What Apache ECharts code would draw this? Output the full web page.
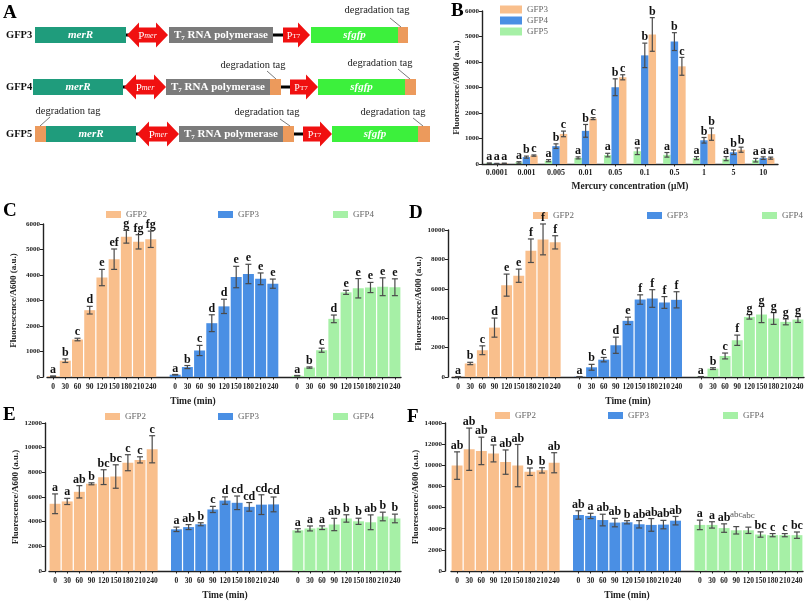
<!DOCTYPE html>
<html>
<head>
<meta charset="utf-8">
<script src="https://cdn.jsdelivr.net/npm/echarts@6/dist/echarts.min.js"></script>
<style>
html, body { margin: 0; padding: 0; background: #fff; }
#main { width: 811px; height: 602px; }
</style>
</head>
<body>
<div id="main"></div>
<script>
// ---------- data ----------
var concLabels = ['0.0001', '0.001', '0.005', '0.01', '0.05', '0.1', '0.5', '1', '5', '10'];
var B_GFP5 = [30, 60, 130, 240, 350, 500, 360, 230, 210, 150];
var B_GFP5_SD = [10, 30, 40, 40, 70, 130, 90, 60, 80, 70];
var B_GFP5_SIG = ['a', 'a', 'a', 'a', 'a', 'a', 'a', 'a', 'a', 'a'];
var B_GFP4 = [15, 270, 700, 1300, 3010, 4260, 4800, 930, 460, 230];
var B_GFP4_SD = [10, 40, 90, 250, 330, 480, 350, 110, 90, 50];
var B_GFP4_SIG = ['a', 'b', 'b', 'b', 'b', 'b', 'b', 'b', 'b', 'a'];
var B_GFP3 = [25, 330, 1180, 1780, 3400, 5080, 3830, 1170, 560, 230];
var B_GFP3_SD = [10, 25, 110, 40, 100, 660, 350, 240, 100, 40];
var B_GFP3_SIG = ['a', 'c', 'c', 'c', 'c', 'b', 'c', 'b', 'b', 'a'];

var timeLabels = ['0', '30', '60', '90', '120', '150', '180', '210', '240'];

var C_GFP2 = [30, 640, 1470, 2620, 3900, 4620, 5500, 5300, 5400];
var C_GFP2_SD = [10, 70, 50, 150, 320, 400, 250, 280, 320];
var C_GFP2_SIG = ['a', 'b', 'c', 'd', 'e', 'ef', 'g', 'fg', 'fg'];
var C_GFP3 = [90, 390, 1040, 2110, 2770, 3920, 4040, 3850, 3660];
var C_GFP3_SD = [10, 60, 200, 330, 280, 420, 380, 230, 180];
var C_GFP3_SIG = ['a', 'b', 'c', 'd', 'd', 'e', 'e', 'e', 'e'];
var C_GFP4 = [50, 370, 1050, 2280, 3320, 3480, 3510, 3540, 3520];
var C_GFP4_SD = [10, 25, 80, 150, 80, 380, 200, 350, 330];
var C_GFP4_SIG = ['a', 'b', 'c', 'd', 'e', 'e', 'e', 'e', 'e'];

var D_GFP2 = [20, 920, 1820, 3360, 6250, 6890, 8590, 9360, 9160];
var D_GFP2_SD = [10, 80, 300, 650, 750, 450, 800, 1050, 450];
var D_GFP2_SIG = ['a', 'b', 'c', 'd', 'e', 'e', 'f', 'f', 'f'];
var D_GFP3 = [20, 660, 1180, 2160, 3820, 5270, 5340, 5070, 5250];
var D_GFP3_SD = [10, 200, 150, 550, 250, 320, 600, 400, 550];
var D_GFP3_SIG = ['a', 'b', 'c', 'd', 'e', 'f', 'f', 'f', 'f'];
var D_GFP4 = [20, 570, 1430, 2500, 4090, 4250, 3980, 3750, 3910];
var D_GFP4_SD = [10, 60, 200, 350, 150, 550, 400, 200, 200];
var D_GFP4_SIG = ['a', 'b', 'c', 'f', 'g', 'g', 'g', 'g', 'g'];

var E_GFP2 = [5450, 5640, 6420, 7070, 7610, 7660, 8780, 9010, 9870];
var E_GFP2_SD = [800, 250, 500, 80, 600, 950, 650, 250, 1100];
var E_GFP2_SIG = ['a', 'a', 'ab', 'b', 'bc', 'bc', 'c', 'c', 'c'];
var E_GFP3 = [3380, 3560, 3790, 4990, 5710, 5530, 5200, 5380, 5400];
var E_GFP3_SD = [180, 200, 120, 250, 300, 550, 350, 800, 600];
var E_GFP3_SIG = ['a', 'ab', 'b', 'c', 'd', 'cd', 'cd', 'cd', 'cd'];
var E_GFP4 = [3300, 3450, 3510, 3770, 4260, 4030, 3950, 4420, 4260];
var E_GFP4_SD = [130, 200, 150, 500, 300, 250, 600, 350, 350];
var E_GFP4_SIG = ['a', 'a', 'a', 'ab', 'b', 'b', 'ab', 'b', 'b'];

var F_GFP2 = [9970, 11520, 11360, 11120, 10300, 9970, 9390, 9520, 10240];
var F_GFP2_SD = [1300, 2000, 1300, 800, 1150, 2000, 350, 250, 950];
var F_GFP2_SIG = ['ab', 'ab', 'ab', 'a', 'ab', 'ab', 'b', 'b', 'ab'];
var F_GFP3 = [5300, 5210, 4820, 4580, 4610, 4420, 4360, 4390, 4760];
var F_GFP3_SD = [400, 250, 550, 400, 150, 350, 600, 400, 400];
var F_GFP3_SIG = ['ab', 'a', 'ab', 'ab', 'b', 'ab', 'ab', 'ab', 'ab'];
var F_GFP4 = [4360, 4360, 4060, 3850, 3850, 3450, 3390, 3390, 3390];
var F_GFP4_SD = [450, 300, 400, 350, 300, 250, 150, 150, 300];
var F_GFP4_SIG = ['a', 'a', 'ab', 'abc', 'abc', 'bc', 'c', 'c', 'bc'];

// ---------- styling ----------
var SERIF = "'Liberation Serif', 'DejaVu Serif', serif";
var ORANGE = '#F9BF8C', BLUE = '#4A8FE4', GREEN = '#A6F0A6';
var TIME_COLORS = { GFP2: ORANGE, GFP3: BLUE, GFP4: GREEN };

var timeCats = timeLabels.concat([''], timeLabels, [''], timeLabels);

// panel grids: B, C, D, E, F
var grids = [
    { left: 482, top: 11, width: 296, height: 153 },
    { left: 47, top: 224, width: 354, height: 153 },
    { left: 452, top: 230, width: 352, height: 147 },
    { left: 49, top: 423, width: 352, height: 154 },
    { left: 451, top: 423, width: 352, height: 154 }
];
var yMax = [6000, 6000, 10000, 12000, 14000];
var yStep = [1000, 1000, 2000, 2000, 2000];
var yOff = [0, 4, 4, 4, 6];

function padGroup(vals, g) {
    var out = [];
    for (var k = 0; k < 29; k++) {
        var j = k - g * 10;
        out.push(j >= 0 && j < 9 ? vals[j] : '-');
    }
    return out;
}

function errBars(ax, start, vals, sds, sigs, dx, cap, fs) {
    return {
        type: 'custom', xAxisIndex: ax, yAxisIndex: ax, z: 10, silent: true,
        data: vals.map(function (v, i) { return [start + i, v]; }),
        renderItem: function (params, api) {
            var i = params.dataIndex, v = vals[i], sd = sds[i];
            var x = api.coord([start + i, v])[0] + dx;
            var yt = api.coord([start + i, v + sd])[1];
            var yb = api.coord([start + i, Math.max(v - sd, 0)])[1];
            var st = { stroke: '#4a4a4a', lineWidth: 1.2 };
            var light = sigs[i] === 'abc';
            return {
                type: 'group', children: [
                    { type: 'line', shape: { x1: x, y1: yt, x2: x, y2: yb }, style: st },
                    { type: 'line', shape: { x1: x - cap, y1: yt, x2: x + cap, y2: yt }, style: st },
                    { type: 'line', shape: { x1: x - cap, y1: yb, x2: x + cap, y2: yb }, style: st },
                    {
                        type: 'text', x: x, y: yt - (light ? 7 : 0),
                        style: {
                            text: sigs[i], align: 'center', verticalAlign: 'bottom',
                            fontSize: light ? fs - 3 : fs, fontWeight: light ? 'normal' : 'bold',
                            fontFamily: SERIF, fill: light ? '#555' : '#111'
                        }
                    }
                ]
            };
        }
    };
}

var axisLine = { show: true, lineStyle: { color: '#222', width: 1.4 } };
var xAxes = [], yAxes = [];
for (var g = 0; g < 5; g++) {
    var isB = g === 0;
    xAxes.push({
        type: 'category', gridIndex: g,
        data: isB ? concLabels : timeCats,
        name: isB ? 'Mercury concentration (μM)' : 'Time (min)',
        nameLocation: 'middle', nameGap: isB ? 18 : 20,
        nameTextStyle: { fontFamily: SERIF, fontWeight: 'bold', fontSize: 9.5, color: '#222',
            padding: g === 1 ? [0, 62, 0, 0] : 0 },
        axisLine: axisLine,
        axisTick: { show: true, length: 2.5, alignWithLabel: true, lineStyle: { color: '#222' },
            interval: function (i, v) { return v !== ''; } },
        axisLabel: { interval: 0, margin: isB ? 5 : 6, fontFamily: SERIF, fontWeight: 'bold',
            fontSize: isB ? 8 : 7.5, color: '#222' },
        splitLine: { show: false }
    });
    yAxes.push({
        type: 'value', gridIndex: g, min: 0, max: yMax[g], interval: yStep[g], offset: yOff[g],
        name: 'Fluorescence/A600 (a.u.)', nameLocation: 'middle', nameGap: isB ? 20 : 25,
        nameTextStyle: { fontFamily: SERIF, fontWeight: 'bold', fontSize: 9, color: '#222' },
        axisLine: axisLine,
        axisTick: { show: true, length: 3, lineStyle: { color: '#222' } },
        axisLabel: { margin: 3, fontFamily: SERIF, fontWeight: 'bold', fontSize: 7, color: '#222',
            formatter: function (v) { return String(v); } },
        splitLine: { show: false }
    });
}

var series = [];
// panel B
[['B:GFP5', B_GFP5, B_GFP5_SD, B_GFP5_SIG, GREEN, -7.5],
 ['B:GFP4', B_GFP4, B_GFP4_SD, B_GFP4_SIG, BLUE, 0],
 ['B:GFP3', B_GFP3, B_GFP3_SD, B_GFP3_SIG, ORANGE, 7.5]].forEach(function (s) {
    series.push({
        type: 'bar', name: s[0], xAxisIndex: 0, yAxisIndex: 0, data: s[1],
        barWidth: 7.5, barGap: '0%', itemStyle: { color: s[4] }
    });
    series.push(errBars(0, 0, s[1], s[2], s[3], s[5], 2.5, 12));
});

// panels C-F
var timePanels = [
    [[C_GFP2, C_GFP2_SD, C_GFP2_SIG], [C_GFP3, C_GFP3_SD, C_GFP3_SIG], [C_GFP4, C_GFP4_SD, C_GFP4_SIG]],
    [[D_GFP2, D_GFP2_SD, D_GFP2_SIG], [D_GFP3, D_GFP3_SD, D_GFP3_SIG], [D_GFP4, D_GFP4_SD, D_GFP4_SIG]],
    [[E_GFP2, E_GFP2_SD, E_GFP2_SIG], [E_GFP3, E_GFP3_SD, E_GFP3_SIG], [E_GFP4, E_GFP4_SD, E_GFP4_SIG]],
    [[F_GFP2, F_GFP2_SD, F_GFP2_SIG], [F_GFP3, F_GFP3_SD, F_GFP3_SIG], [F_GFP4, F_GFP4_SD, F_GFP4_SIG]]
];
var names = ['GFP2', 'GFP3', 'GFP4'];
timePanels.forEach(function (panel, p) {
    var ax = p + 1;
    panel.forEach(function (grp, k) {
        series.push({
            type: 'bar', name: names[k], xAxisIndex: ax, yAxisIndex: ax,
            data: padGroup(grp[0], k), barGap: '-100%', barCategoryGap: '10%',
            itemStyle: { color: TIME_COLORS[names[k]] }
        });
        series.push(errBars(ax, k * 10, grp[0], grp[1], grp[2], 0, 3, 12));
    });
});

// legends
var legStyle = { fontFamily: SERIF, fontSize: 9, color: '#666' };
var legends = [{
    orient: 'vertical', left: 495, top: 0, itemWidth: 22, itemHeight: 8, itemGap: 2,
    data: ['B:GFP3', 'B:GFP4', 'B:GFP5'], selectedMode: false, icon: 'rect',
    formatter: function (n) { return n.slice(2); }, textStyle: legStyle
}];
var legPos = [
    [205, [101, 213, 328]],
    [206, [528, 642, 757]],
    [407, [100, 213, 328]],
    [406, [490, 603, 718]]
];
legPos.forEach(function (lp) {
    lp[1].forEach(function (x, k) {
        legends.push({
            left: x, top: lp[0], itemWidth: 15, itemHeight: 7, data: [names[k]],
            selectedMode: false, icon: 'rect', textStyle: legStyle
        });
    });
});

// ---------- panel A diagram ----------
var TEAL = '#1F9C7C', GRAY = '#7B7B7B', RED = '#F01010', LIME = '#3CF03C', TAG = '#EC9A5C';
var graphics = [];
function rect(x0, x1, cy, color) {
    graphics.push({ type: 'rect', shape: { x: x0, y: cy - 8, width: x1 - x0, height: 16 }, style: { fill: color } });
}
function boxText(cx, cy, txt, rich) {
    graphics.push({ type: 'text', x: cx, y: cy, style: {
        text: txt, align: 'center', verticalAlign: 'middle', fill: '#fff',
        fontFamily: SERIF, fontWeight: 'bold', fontSize: 11, rich: rich || {} } });
}
function link(x0, x1, cy) {
    graphics.push({ type: 'line', shape: { x1: x0, y1: cy, x2: x1, y2: cy }, style: { stroke: '#000', lineWidth: 3 } });
}
function dArrow(x0, x1, cy) {
    var H = 12.5, h = 7.5, a = 12;
    graphics.push({ type: 'polygon', shape: { points: [
        [x0, cy], [x0 + a, cy - H], [x0 + a, cy - h], [x1 - a, cy - h], [x1 - a, cy - H], [x1, cy],
        [x1 - a, cy + H], [x1 - a, cy + h], [x0 + a, cy + h], [x0 + a, cy + H]] }, style: { fill: RED } });
    graphics.push({ type: 'text', x: (x0 + x1) / 2, y: cy + 1, style: {
        text: '{p|P}{s|mer}', align: 'center', verticalAlign: 'middle', fill: '#fff',
        fontFamily: SERIF, fontSize: 11,
        rich: { p: { fontFamily: SERIF, fontSize: 11, fill: '#fff' },
                s: { fontFamily: SERIF, fontSize: 8, fontStyle: 'italic', fill: '#fff' } } } });
}
function rArrow(x0, x1, cy) {
    var H = 12.5, h = 7.5, a = 12;
    graphics.push({ type: 'polygon', shape: { points: [
        [x0, cy - h], [x1 - a, cy - h], [x1 - a, cy - H], [x1, cy], [x1 - a, cy + H], [x1 - a, cy + h], [x0, cy + h]] },
        style: { fill: RED } });
    graphics.push({ type: 'text', x: (x0 + x1) / 2 - 3, y: cy + 1, style: {
        text: '{p|P}{s|T7}', align: 'center', verticalAlign: 'middle', fill: '#fff',
        fontFamily: SERIF, fontSize: 10,
        rich: { p: { fontFamily: SERIF, fontSize: 10, fill: '#fff' },
                s: { fontFamily: SERIF, fontSize: 7, fill: '#fff' } } } });
}
function tagLabel(cx, ty, lx1, ly1, lx2, ly2) {
    graphics.push({ type: 'text', x: cx, y: ty, style: {
        text: 'degradation tag', align: 'center', verticalAlign: 'middle',
        fontFamily: SERIF, fontSize: 10.5, fill: '#222' } });
    graphics.push({ type: 'line', shape: { x1: lx1, y1: ly1, x2: lx2, y2: ly2 }, style: { stroke: '#555', lineWidth: 0.8 } });
}
function rowLabel(txt, cy) {
    graphics.push({ type: 'text', x: 6, y: cy, style: {
        text: txt, align: 'left', verticalAlign: 'middle', fontFamily: SERIF, fontWeight: 'bold', fontSize: 10.5, fill: '#111' } });
}
var t7Rich = { s: { fontSize: 7, fontWeight: 'bold', fontFamily: SERIF, fill: '#fff', padding: [6, 0, 0, 0] } };
function construct(cy, o) {
    rowLabel(o.label, cy);
    link(o.merR[1], o.pmer[0] + 4, cy);
    link(o.t7[1], o.pt7[0] + 2, cy);
    rect(o.merR[0], o.merR[1], cy, TEAL);
    graphics.push({ type: 'text', x: (o.merR[0] + o.merR[1]) / 2, y: cy, style: {
        text: 'merR', align: 'center', verticalAlign: 'middle', fill: '#fff',
        fontFamily: SERIF, fontWeight: 'bold', fontStyle: 'italic', fontSize: 11 } });
    dArrow(o.pmer[0], o.pmer[1], cy);
    rect(o.t7[0], o.t7[1], cy, GRAY);
    boxText((o.t7[0] + o.t7[1]) / 2, cy, 'T{s|7} RNA polymerase', t7Rich);
    rArrow(o.pt7[0], o.pt7[1], cy);
    rect(o.gfp[0], o.gfp[1], cy, LIME);
    graphics.push({ type: 'text', x: (o.gfp[0] + o.gfp[1]) / 2, y: cy, style: {
        text: 'sfgfp', align: 'center', verticalAlign: 'middle', fill: '#fff',
        fontFamily: SERIF, fontWeight: 'bold', fontStyle: 'italic', fontSize: 11 } });
    o.tags.forEach(function (t) { rect(t[0], t[1], cy, TAG); });
}
construct(35, { label: 'GFP3', merR: [35, 126], pmer: [127, 168], t7: [169, 273], pt7: [283, 310],
    gfp: [311, 398], tags: [[398, 408]] });
construct(87, { label: 'GFP4', merR: [33, 123], pmer: [124, 166], t7: [166, 270], pt7: [290, 318],
    gfp: [318, 405], tags: [[270, 281], [405, 416]] });
construct(134, { label: 'GFP5', merR: [46, 136], pmer: [137, 179], t7: [179, 283], pt7: [303, 332],
    gfp: [332, 418], tags: [[35, 46], [283, 294], [418, 430]] });
tagLabel(377, 10, 390, 18, 401, 27);
tagLabel(253, 65, 267, 71, 276, 79);
tagLabel(380, 63, 398, 69, 410, 79);
tagLabel(68, 111, 50, 117, 40, 126);
tagLabel(267, 112, 280, 119, 290, 126);
tagLabel(393, 112, 413, 118, 423, 126);

// panel letters
[['A', 3, 13], ['B', 451, 11], ['C', 3, 211], ['D', 409, 213], ['E', 3, 415], ['F', 407, 417]].forEach(function (l) {
    graphics.push({ type: 'text', x: l[1], y: l[2], style: {
        text: l[0], align: 'left', verticalAlign: 'middle', fontFamily: SERIF, fontWeight: 'bold', fontSize: 19, fill: '#000' } });
});

var chart = echarts.init(document.getElementById('main'), null, { renderer: 'canvas' });
chart.setOption({
    animation: false,
    backgroundColor: '#fff',
    grid: grids,
    xAxis: xAxes,
    yAxis: yAxes,
    legend: legends,
    series: series,
    graphic: graphics
});
</script>
</body>
</html>
